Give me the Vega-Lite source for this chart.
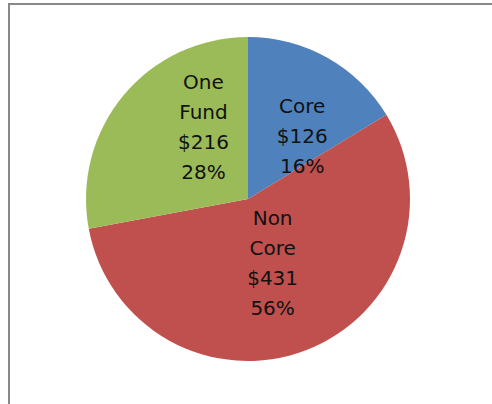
{
  "$schema": "https://vega.github.io/schema/vega-lite/v6.json",
  "width": 486,
  "height": 403,
  "autosize": "none",
  "padding": {"left": 9, "top": 4, "right": 0, "bottom": 0},
  "background": "white",
  "config": {"view": {"stroke": "#888888", "strokeWidth": 2}},
  "data": {
    "values": [
      {"category": "Core", "value": 126, "rank": 1, "label": "Core\n$126\n16%"},
      {"category": "Non Core", "value": 431, "rank": 2, "label": "Non\nCore\n$431\n56%"},
      {"category": "One Fund", "value": 216, "rank": 3, "label": "One\nFund\n$216\n28%"}
    ]
  },
  "encoding": {
    "theta": {"field": "value", "type": "quantitative", "stack": true},
    "order": {"field": "rank", "type": "quantitative"},
    "x": {"value": 239},
    "y": {"value": 195}
  },
  "layer": [
    {
      "mark": {"type": "arc", "outerRadius": 162},
      "encoding": {
        "color": {
          "field": "category",
          "type": "nominal",
          "scale": {"domain": ["Core", "Non Core", "One Fund"], "range": ["#4F81BD", "#C0504D", "#9BBB59"]},
          "legend": null
        }
      }
    },
    {
      "mark": {"type": "text", "radius": 80, "dx": 15, "dy": -22, "lineBreak": "\n", "lineHeight": 30, "font": "DejaVu Sans", "fontSize": 20, "color": "#111111", "align": "center", "baseline": "middle"},
      "encoding": {"text": {"condition": {"test": "datum.category == 'Core'", "field": "label"}, "value": ""}}
    },
    {
      "mark": {"type": "text", "radius": 80, "dx": -4, "dy": -55, "lineBreak": "\n", "lineHeight": 30, "font": "DejaVu Sans", "fontSize": 20, "color": "#111111", "align": "center", "baseline": "middle"},
      "encoding": {"text": {"condition": {"test": "datum.category == 'Non Core'", "field": "label"}, "value": ""}}
    },
    {
      "mark": {"type": "text", "radius": 80, "dx": 17, "dy": -65, "lineBreak": "\n", "lineHeight": 30, "font": "DejaVu Sans", "fontSize": 20, "color": "#111111", "align": "center", "baseline": "middle"},
      "encoding": {"text": {"condition": {"test": "datum.category == 'One Fund'", "field": "label"}, "value": ""}}
    }
  ]
}
